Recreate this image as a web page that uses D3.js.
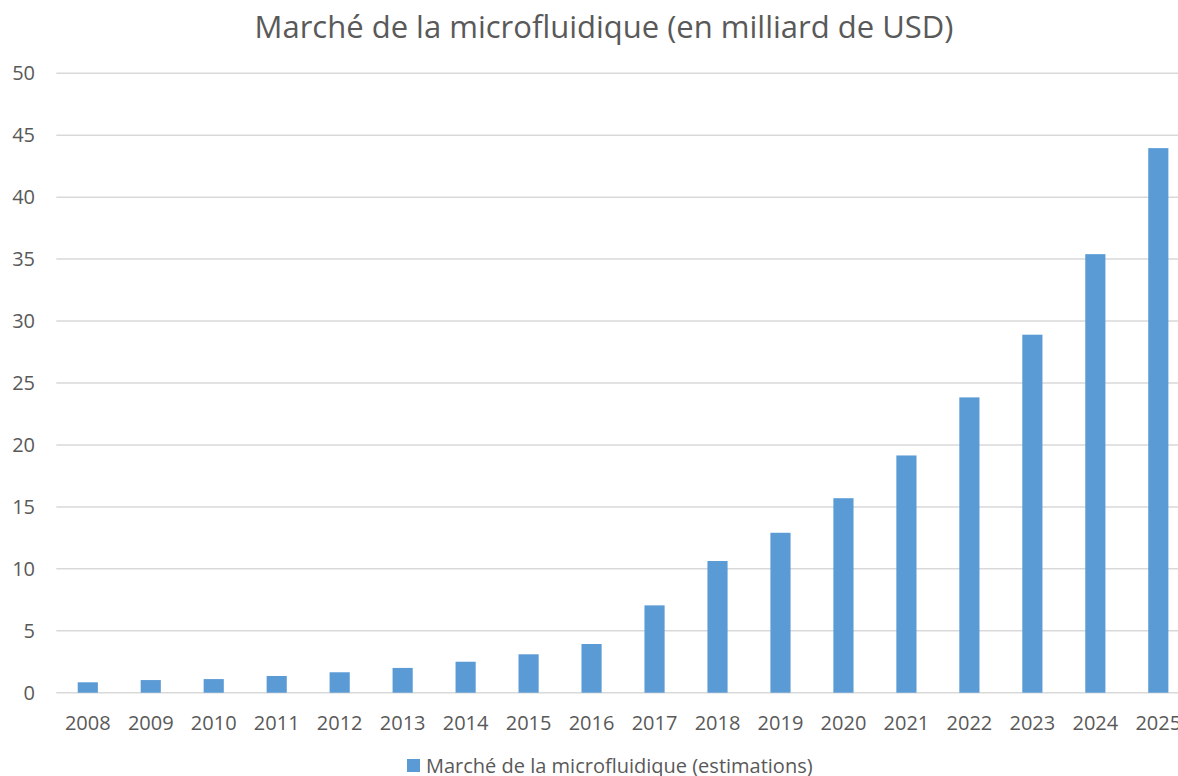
<!DOCTYPE html>
<html lang="fr">
<head>
<meta charset="utf-8">
<title>Marché de la microfluidique</title>
<script src="https://d3js.org/d3.v7.min.js"></script>
<style>
  body { margin: 0; background: #fff; }
  svg text { font-family: "Open Sans", "Noto Sans", sans-serif; fill: #595959; }
</style>
</head>
<body>
<script>
// data
const years = ["2008", "2009", "2010", "2011", "2012", "2013", "2014", "2015", "2016",
               "2017", "2018", "2019", "2020", "2021", "2022", "2023", "2024", "2025"];
const values = [0.84, 1.02, 1.1, 1.35, 1.65, 2.0, 2.5, 3.1, 3.93,
                7.05, 10.63, 12.91, 15.7, 19.15, 23.84, 28.9, 35.4, 43.96];
const yTicks = [0, 5, 10, 15, 20, 25, 30, 35, 40, 45, 50];
const title = "Marché de la microfluidique (en milliard de USD)";
const seriesName = "Marché de la microfluidique (estimations)";

const w = 1178, h = 776;
const plotLeft = 56.3, plotRight = 1189.8, plotTop = 73.3, plotBottom = 692.7;

const svg = d3.select("body").append("svg")
  .attr("width", w)
  .attr("height", h);

const x = d3.scaleBand()
  .domain(years)
  .range([plotLeft, plotRight])
  .paddingInner(0.68)
  .paddingOuter(0.34);

const y = d3.scaleLinear()
  .domain([0, 50])
  .range([plotBottom, plotTop]);

// gridlines
svg.append("g")
  .selectAll("line")
  .data(yTicks)
  .join("line")
  .attr("x1", plotLeft)
  .attr("x2", plotRight)
  .attr("y1", d => y(d))
  .attr("y2", d => y(d))
  .attr("stroke", "#d9d9d9")
  .attr("stroke-width", 1.5);

// y axis labels
const yAxis = d3.axisLeft(y).tickValues(yTicks).tickSize(0).tickPadding(0);
svg.append("g")
  .attr("transform", "translate(35,0)")
  .call(yAxis)
  .call(g => g.select(".domain").remove())
  .selectAll("text")
  .attr("font-size", 20)
  .attr("fill", "#595959")
  .style("font-family", "\"Open Sans\", sans-serif");

// bars
svg.append("g")
  .selectAll("rect")
  .data(values)
  .join("rect")
  .attr("x", (d, i) => x(years[i]))
  .attr("width", x.bandwidth())
  .attr("y", d => y(d))
  .attr("height", d => y(0) - y(d))
  .attr("fill", "#5b9bd5");

// x axis labels
const xAxis = d3.axisBottom(x).tickSize(0).tickPadding(0);
svg.append("g")
  .attr("transform", "translate(0," + plotBottom + ")")
  .call(xAxis)
  .call(g => g.select(".domain").remove())
  .selectAll("text")
  .attr("dy", null)
  .attr("y", 37)
  .attr("font-size", 20)
  .attr("fill", "#595959")
  .style("font-family", "\"Open Sans\", sans-serif");

// title
svg.append("text")
  .attr("x", 604)
  .attr("y", 38)
  .attr("text-anchor", "middle")
  .attr("font-size", 31)
  .text(title);

// legend
svg.append("rect")
  .attr("x", 407)
  .attr("y", 759)
  .attr("width", 13)
  .attr("height", 13)
  .attr("fill", "#5b9bd5");

svg.append("text")
  .attr("x", 426)
  .attr("y", 773)
  .attr("font-size", 20)
  .text(seriesName);
</script>
</body>
</html>
